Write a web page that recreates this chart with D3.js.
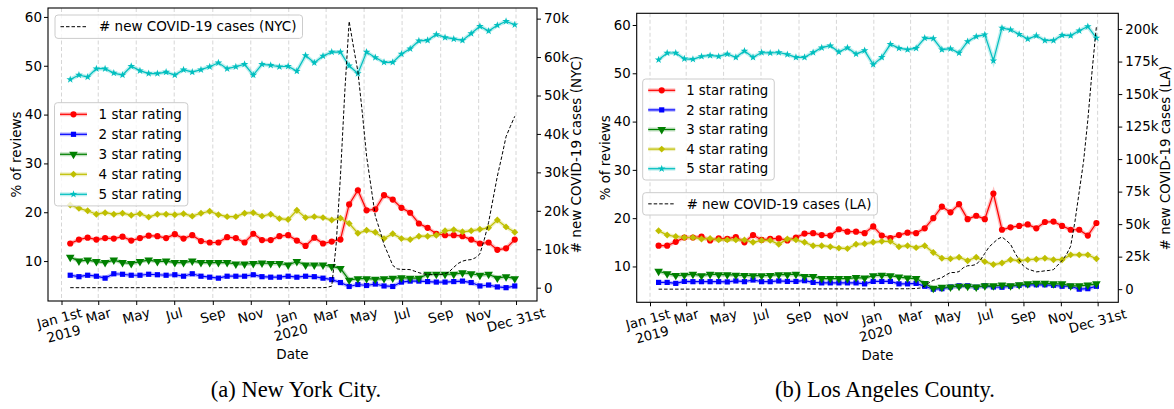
<!DOCTYPE html>
<html>
<head>
<meta charset="utf-8">
<script src="https://cdn.jsdelivr.net/npm/d3@7"></script>
<style>
  body { margin: 0; background: #fff; }
  text { font-family: "DejaVu Sans", sans-serif; }
</style>
</head>
<body>
<svg id="fig" width="1174" height="409"></svg>
<script>
// review shares are binned every two weeks
var dates = ["2019-01-15","2019-01-29","2019-02-12","2019-02-26","2019-03-12","2019-03-26","2019-04-09","2019-04-23",
  "2019-05-07","2019-05-21","2019-06-04","2019-06-18","2019-07-02","2019-07-16","2019-07-30","2019-08-13","2019-08-27",
  "2019-09-10","2019-09-24","2019-10-08","2019-10-22","2019-11-05","2019-11-19","2019-12-03","2019-12-17","2019-12-31",
  "2020-01-14","2020-01-28","2020-02-11","2020-02-25","2020-03-10","2020-03-24","2020-04-07","2020-04-21","2020-05-05",
  "2020-05-19","2020-06-02","2020-06-16","2020-06-30","2020-07-14","2020-07-28","2020-08-11","2020-08-25","2020-09-08",
  "2020-09-22","2020-10-06","2020-10-20","2020-11-03","2020-11-17","2020-12-01","2020-12-15","2020-12-29"];

// New York City, % of reviews
var nyc1 = [13.6,14.4,14.8,14.4,14.7,14.6,15.0,14.2,14.7,15.2,15.1,14.7,15.5,14.6,15.3,14.1,13.8,13.8,14.9,14.7,13.8,15.6,14.3,14.3,15.1,15.3,
  14.2,13.1,14.8,13.6,14.0,14.4,21.6,24.5,20.4,20.6,23.5,22.6,20.9,19.9,17.7,16.8,15.6,15.3,15.3,15.1,14.4,13.6,13.8,12.3,12.6,14.4];
var nyc2 = [7.1,6.8,7.1,6.9,6.5,7.4,7.3,7.1,7.1,7.3,7.2,7.1,7.2,6.9,7.4,6.9,6.7,6.5,6.9,6.9,6.9,7.2,6.8,6.7,6.7,6.9,
  6.7,6.9,6.8,6.5,6.2,5.6,4.8,5.2,5.0,5.3,4.9,4.8,5.7,5.9,5.9,5.8,5.7,5.7,5.8,5.9,5.6,4.9,5.1,4.7,4.55,4.9];
var nyc3 = [10.8,10.0,10.2,9.9,9.7,10.2,9.7,9.5,9.9,10.2,9.9,10.0,9.7,9.7,10.0,9.7,9.7,9.7,9.7,9.4,9.4,9.5,9.6,9.5,9.5,9.2,
  9.9,9.2,9.2,9.2,8.9,8.5,6.1,6.4,6.4,6.3,6.4,6.5,6.6,6.5,6.5,7.3,7.3,7.3,7.3,7.6,7.4,7.1,7.3,6.5,6.8,6.4];
var nyc4 = [21.5,20.8,20.3,19.6,19.9,19.6,19.8,19.4,19.7,19.0,19.6,19.6,19.5,19.7,19.2,19.8,20.2,19.5,19.1,19.1,19.8,19.9,19.2,19.6,18.7,18.5,
  20.4,18.9,19.1,18.9,18.4,18.8,17.7,15.7,16.3,15.9,14.6,15.6,14.6,14.4,15.1,15.1,15.3,16.2,16.4,16.0,16.2,16.5,16.8,18.4,17.0,15.9];
var nyc5 = [47.2,48.1,47.7,49.4,49.4,48.5,48.1,49.9,49.0,48.4,48.4,48.7,48.1,49.2,48.7,49.2,49.8,50.6,49.4,49.8,50.3,48.1,50.3,50.1,49.8,49.9,
  48.9,52.1,50.6,52.0,52.8,52.8,50.0,48.4,52.8,51.7,50.7,50.7,52.4,53.5,55.1,55.2,56.4,55.8,55.5,55.2,56.6,58.1,57.1,58.3,59.1,58.4];

// Los Angeles County, % of reviews
var la1 = [14.3,14.3,15.1,16.0,16.0,16.2,15.4,15.8,15.7,16.1,15.0,16.5,15.5,15.7,15.8,15.4,16.0,16.8,16.9,16.5,16.4,17.7,17.2,17.2,16.9,18.3,
  16.4,15.9,16.5,17.0,16.9,17.9,20.0,22.4,21.2,22.9,19.8,20.5,19.8,25.1,17.6,18.1,18.4,18.7,17.9,19.2,19.3,18.4,17.6,17.6,16.4,19.0];
var la2 = [6.7,6.7,6.5,6.9,6.85,6.85,6.85,6.85,6.8,7.0,6.85,7.2,6.85,6.85,7.0,6.9,6.9,7.05,6.7,6.6,6.6,6.6,6.6,6.6,6.4,6.9,
  6.9,6.9,6.4,6.4,6.5,5.9,5.3,5.4,5.75,6.0,6.0,5.7,6.0,5.75,5.7,5.9,6.1,6.2,6.2,6.2,6.1,5.9,5.9,5.3,5.4,5.9];
var la3 = [9.0,8.5,8.15,8.2,8.4,8.1,8.4,8.3,8.3,8.2,8.15,8.1,8.1,8.15,8.3,8.3,8.4,7.95,7.95,7.5,7.5,7.5,7.5,7.7,7.6,8.1,
  8.2,8.1,7.8,7.6,7.5,6.5,5.5,5.7,5.75,5.9,5.9,5.75,6.0,6.0,6.15,6.0,6.2,6.4,6.55,6.55,6.4,6.4,6.0,6.0,6.15,6.4];
var la4 = [17.4,16.5,16.2,16.0,16.0,15.7,15.8,15.5,15.5,15.5,15.5,15.0,15.4,15.4,14.6,15.7,15.5,15.0,14.3,14.3,14.1,13.8,13.7,14.6,14.7,15.0,
  15.2,15.2,14.1,14.3,13.9,14.3,12.9,11.7,11.6,11.9,11.2,11.9,11.0,10.4,10.7,11.4,11.2,11.4,11.5,11.7,11.4,11.4,12.4,12.4,12.4,11.6];
var la5 = [52.8,54.2,54.2,53.0,52.9,53.5,53.7,53.5,54.0,53.3,54.6,53.3,54.3,54.2,54.3,53.9,53.3,53.3,54.3,55.3,55.7,54.4,55.3,54.0,54.7,51.8,
  53.3,56.0,55.2,54.9,55.2,57.3,57.2,54.9,55.1,54.2,56.6,57.6,58.0,52.6,59.4,59.0,58.1,57.1,57.8,56.8,56.8,57.9,57.8,58.8,59.7,57.3];

// new COVID-19 cases per two weeks (thousands), sampled weekly in 2020
var covidDates = ["2019-01-15","2020-02-25","2020-03-03","2020-03-10","2020-03-17","2020-03-24","2020-03-31","2020-04-07",
  "2020-04-14","2020-04-21","2020-04-28","2020-05-05","2020-05-12","2020-05-19","2020-05-26","2020-06-02","2020-06-09",
  "2020-06-16","2020-06-23","2020-06-30","2020-07-07","2020-07-14","2020-07-21","2020-07-28","2020-08-04","2020-08-11",
  "2020-08-18","2020-08-25","2020-09-01","2020-09-08","2020-09-15","2020-09-22","2020-09-29","2020-10-06","2020-10-13",
  "2020-10-20","2020-10-27","2020-11-03","2020-11-10","2020-11-17","2020-11-24","2020-12-01","2020-12-08","2020-12-15",
  "2020-12-22","2020-12-29"];
var nycCovid = [0,0,0.1,0.4,11,29,51,69.3,62.6,56.3,45.7,34.2,26.4,18.6,15.1,11.2,8.6,5.8,4.9,4.75,4.75,4.7,4.3,3.9,3.6,3.4,
  3.4,3.4,3.45,3.6,4.2,5.3,6.3,6.9,7.2,7.3,7.8,8.8,12.5,17,23,29,34,39.3,42,44.6];
var laCovid = [0,0.3,0.4,0.5,0.9,2.5,5,6.8,7.8,8.9,11,12.8,12.8,13.5,16.5,18,18.2,19,22.5,27.5,32.5,35.5,38.5,40.1,37.5,34.5,
  28,22.5,17.8,15.5,14.4,13.3,13.6,14.1,14.4,15,18.5,22,26.5,33,52,75,98,130,168,202];

// axes
var xTickDates = ["2019-01-01","2019-03-01","2019-05-01","2019-07-01","2019-09-01","2019-11-01",
  "2020-01-01","2020-03-01","2020-05-01","2020-07-01","2020-09-01","2020-11-01","2020-12-31"];
var xTickLabels = ["Jan 1st\n2019","Mar","May","Jul","Sep","Nov","Jan\n2020","Mar","May","Jul","Sep","Nov","Dec 31st"];
var leftTicks = [10, 20, 30, 40, 50, 60];
var nycRightTicks = [0, 10, 20, 30, 40, 50, 60, 70];
var laRightTicks = [0, 25, 50, 75, 100, 125, 150, 175, 200];
var seriesLabels = ["1 star rating", "2 star rating", "3 star rating", "4 star rating", "5 star rating"];

var colors = ["#ff0000", "#0000ff", "#008000", "#bfbf00", "#00bfbf"];
var shapes = [
  {sym: d3.symbolCircle, size: 30, rot: 0},
  {sym: d3.symbolSquare, size: 27, rot: 0},
  {sym: d3.symbolTriangle, size: 32, rot: 180},
  {sym: d3.symbolSquare, size: 24, rot: 45},
  {sym: d3.symbolStar, size: 18, rot: 0}
];

var parse = d3.timeParse("%Y-%m-%d");
var svg = d3.select("#fig");
var SIN = Math.sin(15 * Math.PI / 180), COS = Math.cos(15 * Math.PI / 180);

function pad(ext) {
  var p = (ext[1] - ext[0]) * 0.05;
  return [ext[0] - p, ext[1] + p];
}

function drawChart(c) {
  var g = svg.append("g");
  var fs = c.fs;
  var dts = dates.map(parse);
  var cdts = covidDates.map(parse);
  var xe = pad(d3.extent(dts, function(d) { return +d; }));
  var x = d3.scaleTime().domain([new Date(xe[0]), new Date(xe[1])]).range([c.left, c.right]);
  var y = d3.scaleLinear().domain(pad(d3.extent(d3.merge(c.series)))).range([c.bottom, c.top]);
  var y2 = d3.scaleLinear().domain(pad(d3.extent(c.covid))).range([c.bottom, c.top]);
  var ticks = xTickDates.map(parse);

  // vertical grid
  g.selectAll(".grid").data(ticks).enter().append("line")
    .attr("x1", function(d) { return x(d); }).attr("x2", function(d) { return x(d); })
    .attr("y1", c.top).attr("y2", c.bottom)
    .attr("stroke", "#d6d6d6").attr("stroke-width", 1).attr("stroke-dasharray", "4,2.5");

  // rating series
  c.series.forEach(function(vals, i) {
    var pts = vals.map(function(v, j) { return [x(dts[j]), y(v)]; });
    var line = d3.line();
    g.append("path").attr("d", line(pts)).attr("fill", "none")
      .attr("stroke", colors[i]).attr("stroke-width", 4).attr("stroke-opacity", 0.25);
    g.append("path").attr("d", line(pts)).attr("fill", "none")
      .attr("stroke", colors[i]).attr("stroke-width", 1.2);
    var sh = shapes[i];
    g.selectAll(null).data(pts).enter().append("path")
      .attr("d", d3.symbol(sh.sym, sh.size)())
      .attr("transform", function(p) { return "translate(" + p[0] + "," + p[1] + ") rotate(" + sh.rot + ")"; })
      .attr("fill", colors[i]);
  });

  // covid cases on the twin axis
  g.append("path")
    .attr("d", d3.line().x(function(d, j) { return x(cdts[j]); }).y(function(d) { return y2(d); })(c.covid))
    .attr("fill", "none").attr("stroke", "#000").attr("stroke-width", 1).attr("stroke-dasharray", "3.5,2");

  // frame
  g.append("rect").attr("x", c.left).attr("y", c.top)
    .attr("width", c.right - c.left).attr("height", c.bottom - c.top)
    .attr("fill", "none").attr("stroke", "#000").attr("stroke-width", 1.1);

  // axes
  var ax = g.append("g").attr("transform", "translate(" + c.left + ",0)")
    .call(d3.axisLeft(y).tickValues(leftTicks).tickSize(4).tickPadding(2));
  var ar = g.append("g").attr("transform", "translate(" + c.right + ",0)")
    .call(d3.axisRight(y2).tickValues(c.rightTicks).tickSize(4).tickPadding(3)
      .tickFormat(function(d) { return d === 0 ? "0" : d + "k"; }));
  var ab = g.append("g").attr("transform", "translate(0," + c.bottom + ")")
    .call(d3.axisBottom(x).tickValues(ticks).tickSize(4).tickFormat(""));
  [ax, ar, ab].forEach(function(a) {
    a.select(".domain").remove();
    a.attr("font-family", null).attr("font-size", fs);
    a.selectAll("text").attr("fill", "#000");
    a.selectAll("line").attr("stroke", "#000").attr("stroke-width", 1);
  });

  // rotated, multi-line date labels
  var lh = 1.2 * fs;
  ticks.forEach(function(d, k) {
    var lines = xTickLabels[k].split("\n");
    var tg = g.append("g");
    var w = 0;
    lines.forEach(function(s, i) {
      var t = tg.append("text").attr("text-anchor", "middle").attr("font-size", fs)
        .attr("y", (i - (lines.length - 1) / 2) * lh).attr("dy", "0.35em").text(s);
      w = Math.max(w, t.node().getComputedTextLength());
    });
    var H = w * SIN + lines.length * lh * COS;
    var cy = c.bottom + 6 + H / 2 - 2.6;
    tg.attr("transform", "translate(" + x(d) + "," + cy + ") rotate(-15)");
  });

  // axis titles
  var midY = (c.top + c.bottom) / 2;
  g.append("text").attr("x", (c.left + c.right) / 2).attr("y", c.dateY)
    .attr("text-anchor", "middle").attr("font-size", fs).text("Date");
  g.append("text").attr("transform", "translate(" + c.yLabelX + "," + midY + ") rotate(-90)")
    .attr("text-anchor", "middle").attr("dy", "0.35em").attr("font-size", fs).text("% of reviews");
  g.append("text").attr("transform", "translate(" + c.y2LabelX + "," + midY + ") rotate(-90)")
    .attr("text-anchor", "middle").attr("dy", "0.35em").attr("font-size", fs).text(c.y2Label);

  // legends
  function legend(box, items) {
    var lg = g.append("g");
    var bg = lg.append("rect").attr("x", box.x).attr("y", box.y).attr("rx", 3)
      .attr("height", box.rowH * items.length + box.padV * 2)
      .attr("fill", "#fff").attr("fill-opacity", 0.8).attr("stroke", "#cccccc").attr("stroke-width", 1);
    var maxW = 0;
    items.forEach(function(it, i) {
      var cyy = box.y + box.padV + box.rowH * (i + 0.5);
      var x0 = box.x + 5.5, x1 = x0 + 27;
      if (it.dashed) {
        lg.append("line").attr("x1", x0).attr("x2", x1).attr("y1", cyy).attr("y2", cyy)
          .attr("stroke", "#000").attr("stroke-width", 1).attr("stroke-dasharray", "3.5,2");
      } else {
        lg.append("line").attr("x1", x0).attr("x2", x1).attr("y1", cyy).attr("y2", cyy)
          .attr("stroke", colors[it.idx]).attr("stroke-width", 4).attr("stroke-opacity", 0.25);
        lg.append("line").attr("x1", x0).attr("x2", x1).attr("y1", cyy).attr("y2", cyy)
          .attr("stroke", colors[it.idx]).attr("stroke-width", 1.2);
        var sh = shapes[it.idx];
        lg.append("path").attr("d", d3.symbol(sh.sym, sh.size)())
          .attr("transform", "translate(" + (x0 + x1) / 2 + "," + cyy + ") rotate(" + sh.rot + ")")
          .attr("fill", colors[it.idx]);
      }
      var t = lg.append("text").attr("x", box.x + box.textOff).attr("y", cyy).attr("dy", "0.35em")
        .attr("font-size", fs).text(it.label);
      maxW = Math.max(maxW, t.node().getComputedTextLength());
    });
    bg.attr("width", box.textOff + maxW + 6);
  }
  legend(c.starLegend, seriesLabels.map(function(s, i) { return {label: s, idx: i}; }));
  legend(c.covidLegend, [{label: c.covidLabel, dashed: true}]);
}

drawChart({
  left: 48, right: 537, top: 8, bottom: 301, fs: 13.5,
  series: [nyc1, nyc2, nyc3, nyc4, nyc5], covid: nycCovid, rightTicks: nycRightTicks,
  dateY: 359, yLabelX: 16.5, y2LabelX: 576, y2Label: "# new COVID-19 cases (NYC)",
  covidLabel: "# new COVID-19 cases (NYC)",
  starLegend: {x: 54.5, y: 102.7, rowH: 20, padV: 1.6, textOff: 44},
  covidLegend: {x: 55, y: 15, rowH: 21, padV: 1.2, textOff: 44}
});

drawChart({
  left: 636.7, right: 1118.3, top: 13.3, bottom: 302.3, fs: 13.3,
  series: [la1, la2, la3, la4, la5], covid: laCovid, rightTicks: laRightTicks,
  dateY: 360, yLabelX: 605.5, y2LabelX: 1165, y2Label: "# new COVID-19 cases (LA)",
  covidLabel: "# new COVID-19 cases (LA)",
  starLegend: {x: 642.7, y: 79, rowH: 19.6, padV: 1.5, textOff: 43.5},
  covidLegend: {x: 642.7, y: 192.7, rowH: 20.3, padV: 1, textOff: 44}
});

// sub-figure captions
svg.append("text").attr("x", 296).attr("y", 397).attr("text-anchor", "middle")
  .style("font-family", "'Liberation Serif', serif").attr("font-size", 22.5).text("(a) New York City.");
svg.append("text").attr("x", 885).attr("y", 397).attr("text-anchor", "middle")
  .style("font-family", "'Liberation Serif', serif").attr("font-size", 22.5).text("(b) Los Angeles County.");
</script>
</body>
</html>
